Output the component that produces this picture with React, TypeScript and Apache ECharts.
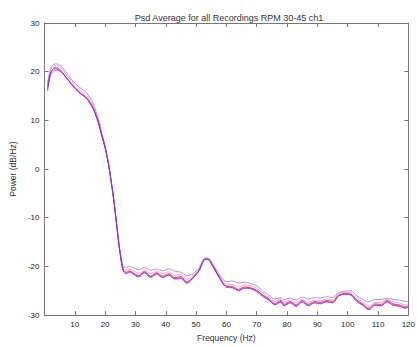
import React, { useEffect, useRef } from "react";
import * as echarts from "echarts";

const freq = [1, 2, 3, 4, 5, 6, 7, 8, 10, 12, 14, 16, 17, 18, 19, 20, 21, 22, 23, 24, 25, 26, 27, 28, 29, 31, 33, 35, 37, 39, 41, 43, 45, 47, 49, 51, 53, 54, 55, 57, 59, 60, 62, 64, 66, 68, 70, 72, 74, 76, 78, 79, 81, 83, 85, 87, 89, 91, 93, 95, 97, 99, 101, 103, 105, 107, 109, 111, 113, 115, 117, 119, 120];

const lightBlue = [17.5, 20.6, 21.5, 21.6, 21.4, 20.8, 20.0, 19.2, 17.6, 16.6, 15.6, 13.6, 11.8, 9.8, 7.2, 4.8, 1.6, -2.4, -7.0, -12.4, -17.2, -19.9, -20.2, -20.0, -20.2, -20.7, -20.2, -20.8, -20.5, -20.9, -20.5, -21.0, -21.2, -21.9, -21.5, -20.3, -18.3, -18.3, -19.0, -21.0, -22.8, -23.1, -23.0, -23.4, -23.2, -23.5, -24.0, -25.0, -25.9, -26.7, -26.4, -26.8, -26.5, -26.9, -26.3, -26.7, -26.4, -26.5, -26.2, -26.4, -25.4, -25.1, -25.0, -26.0, -26.8, -27.3, -26.8, -26.8, -26.6, -26.8, -26.9, -27.2, -27.2];

const pink = [17.2, 20.3, 21.1, 21.2, 21.0, 20.4, 19.6, 18.8, 17.2, 16.0, 15.0, 13.0, 11.4, 9.4, 7.0, 4.6, 1.5, -2.4, -6.9, -12.4, -17.4, -20.4, -20.8, -20.5, -20.8, -21.4, -20.6, -21.5, -20.9, -21.5, -21.1, -21.8, -21.7, -22.7, -21.9, -20.6, -18.4, -18.4, -19.2, -21.3, -23.2, -23.6, -23.7, -24.2, -23.8, -24.0, -24.5, -25.5, -26.3, -27.2, -26.7, -27.4, -26.9, -27.5, -26.7, -27.4, -26.9, -27.1, -26.7, -26.9, -25.6, -25.3, -25.4, -26.5, -27.3, -28.2, -27.4, -27.4, -26.7, -27.3, -27.5, -27.9, -27.7];

const red = [16.8, 19.8, 20.7, 20.8, 20.5, 19.8, 19.0, 18.2, 16.6, 15.5, 14.5, 12.5, 11.0, 9.2, 6.8, 4.5, 1.5, -2.5, -7.0, -12.5, -17.5, -20.8, -21.2, -20.9, -21.2, -21.9, -21.0, -22.0, -21.3, -22.0, -21.5, -22.3, -22.1, -23.2, -22.2, -20.8, -18.5, -18.5, -19.3, -21.5, -23.5, -24.0, -24.1, -24.7, -24.2, -24.4, -24.9, -25.9, -26.6, -27.6, -27.0, -27.8, -27.2, -27.9, -27.0, -27.8, -27.2, -27.4, -27.0, -27.2, -25.9, -25.6, -25.7, -26.9, -27.7, -28.6, -27.7, -27.8, -27.0, -27.7, -27.9, -28.3, -28.0];

const magenta = [16.4, 19.3, 20.1, 20.3, 20.1, 19.6, 18.9, 18.2, 16.8, 15.6, 14.6, 12.6, 11.1, 9.1, 6.7, 4.4, 1.4, -2.5, -7.0, -12.5, -17.5, -20.7, -21.4, -21.0, -21.3, -22.0, -21.2, -22.1, -21.4, -22.2, -21.7, -22.5, -22.3, -23.3, -22.3, -20.9, -18.6, -18.6, -19.4, -21.6, -23.6, -24.1, -24.3, -24.9, -24.4, -24.5, -25.0, -26.0, -26.8, -27.8, -27.2, -28.0, -27.4, -28.1, -27.2, -28.0, -27.4, -27.6, -27.2, -27.4, -26.0, -25.7, -25.8, -27.1, -27.9, -28.8, -27.9, -28.0, -27.2, -27.9, -28.1, -28.5, -28.3];

const purple = [16.0, 19.6, 20.5, 20.6, 20.3, 19.7, 18.9, 18.1, 16.6, 15.4, 14.4, 12.4, 10.9, 9.0, 6.6, 4.3, 1.3, -2.6, -7.1, -12.6, -17.6, -21.0, -21.5, -21.2, -21.5, -22.2, -21.3, -22.3, -21.6, -22.3, -21.8, -22.6, -22.5, -23.5, -22.4, -20.9, -18.5, -18.5, -19.4, -21.6, -23.7, -24.3, -24.4, -25.0, -24.5, -24.6, -25.2, -26.2, -26.9, -27.9, -27.3, -28.1, -27.5, -28.2, -27.3, -28.1, -27.5, -27.7, -27.3, -27.5, -26.1, -25.7, -25.9, -27.2, -28.0, -28.9, -28.0, -28.1, -27.3, -28.0, -28.2, -28.6, -28.4];

const seriesList = [
  { name: "rec1", values: lightBlue, color: "rgba(120,120,255,0.75)" },
  { name: "rec2", values: pink, color: "rgba(255,130,160,0.75)" },
  { name: "rec3", values: magenta, color: "rgba(210,50,200,0.8)" },
  { name: "rec4", values: red, color: "rgba(235,30,70,0.85)" },
  { name: "rec5", values: purple, color: "rgba(100,50,255,0.8)" },
];

const titleText = "Psd Average for all Recordings RPM 30-45 ch1";
const xName = "Frequency (Hz)";
const yName = "Power (dB/Hz)";

const FONT = "'Liberation Sans', Arial, sans-serif";

export default function App() {
  const ref = useRef<HTMLDivElement>(null);
  useEffect(() => {
    if (!ref.current) return;
    const chart = echarts.init(ref.current, undefined, { renderer: "svg" });
    const axisLine = { show: true, onZero: false, lineStyle: { color: "#777", width: 1 } };
    const baseTick = { show: true, inside: true, length: 4, lineStyle: { color: "#777" } };
    chart.setOption({
      animation: false,
      backgroundColor: "#fff",
      textStyle: { fontFamily: FONT },
      title: {
        text: titleText,
        left: 224,
        top: 8,
        textAlign: "center",
        textStyle: { fontSize: 9, fontWeight: "normal", color: "#333", fontFamily: FONT },
      },
      grid: { left: 38.5, right: 5, top: 23, bottom: 29, containLabel: false },
      xAxis: [
        {
          type: "value",
          min: 0,
          max: 120,
          interval: 10,
          position: "bottom",
          name: xName,
          nameLocation: "middle",
          nameGap: 15,
          nameTextStyle: { fontSize: 8.5, color: "#333", fontFamily: FONT },
          axisLine,
          axisTick: baseTick,
          axisLabel: { showMinLabel: false, fontSize: 8, color: "#222", margin: 5, fontFamily: FONT },
          splitLine: { show: false },
        },
        {
          type: "value",
          min: 0,
          max: 120,
          interval: 10,
          position: "top",
          axisLine,
          axisTick: baseTick,
          axisLabel: { show: false },
          splitLine: { show: false },
        },
      ],
      yAxis: [
        {
          type: "value",
          min: -30,
          max: 30,
          interval: 10,
          position: "left",
          name: yName,
          nameLocation: "middle",
          nameGap: 25,
          nameTextStyle: { fontSize: 8.5, color: "#333", fontFamily: FONT },
          axisLine,
          axisTick: baseTick,
          axisLabel: { fontSize: 8, color: "#222", margin: 5, fontFamily: FONT },
          splitLine: { show: false },
        },
        {
          type: "value",
          min: -30,
          max: 30,
          interval: 10,
          position: "right",
          axisLine,
          axisTick: baseTick,
          axisLabel: { show: false },
          splitLine: { show: false },
        },
      ],
      series: seriesList.map((s) => ({
        name: s.name,
        type: "line",
        xAxisIndex: 0,
        yAxisIndex: 0,
        showSymbol: false,
        smooth: 0.3,
        lineStyle: { color: s.color, width: 1 },
        itemStyle: { color: s.color },
        data: freq.map((f, i) => [f, s.values[i]]),
      })),
    });
    return () => chart.dispose();
  }, []);
  return <div ref={ref} style={{ position: "fixed", left: 0, top: 0, width: 418, height: 347 }} />;
}
